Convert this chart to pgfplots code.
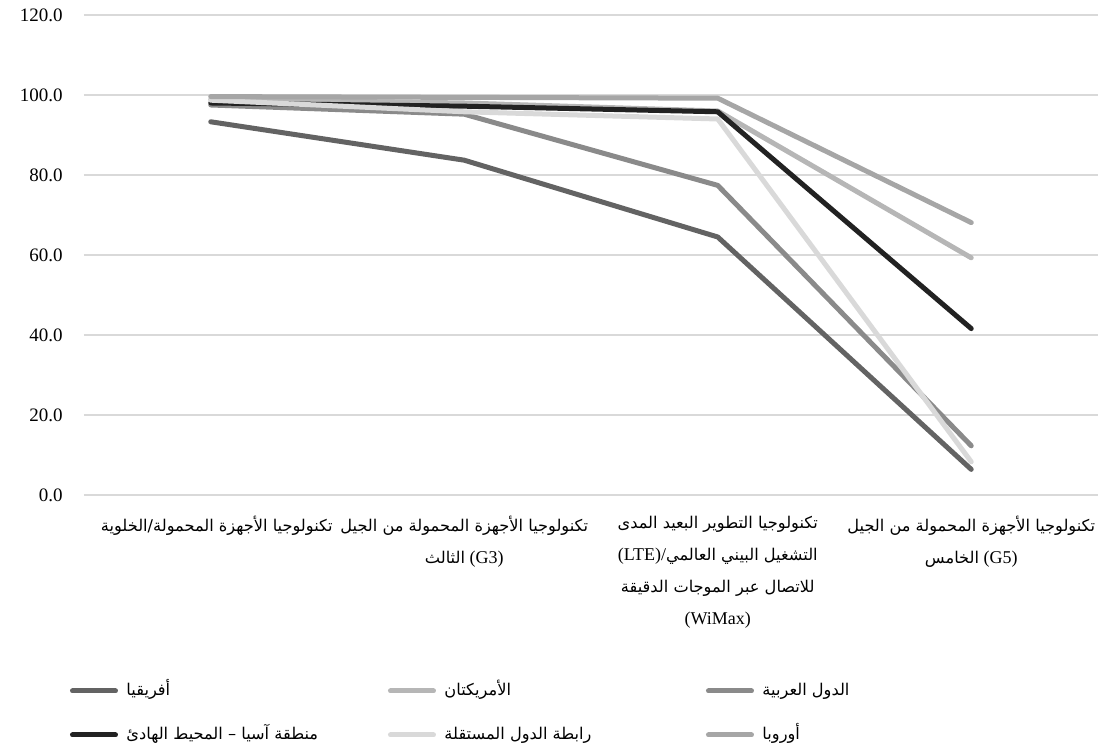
\documentclass[border=0pt]{standalone}
\usepackage{fontspec}
\usepackage{pgfplots}
\usepackage{pgfplotstable}
\pgfplotsset{compat=1.18}
\setmainfont{Liberation Serif}
\newfontfamily\arabicfont[Script=Arabic,Scale=0.9]{DejaVu Sans}
\TeXXeTstate=1

\definecolor{cAfrica}{HTML}{636363}
\definecolor{cAmericas}{HTML}{B6B6B6}
\definecolor{cArab}{HTML}{8A8A8A}
\definecolor{cAsia}{HTML}{222222}
\definecolor{cCIS}{HTML}{D9D9D9}
\definecolor{cEurope}{HTML}{A6A6A6}
\definecolor{gridc}{HTML}{D9D9D9}

% population coverage (%) by technology, per region
\pgfplotstableread{
x africa americas arab asia cis europe
0 93.3 98.9 97.5 98.0 98.7 99.6
1 83.7 98.0 95.2 97.2 95.8 99.4
2 64.5 96.0 77.4 95.8 94.0 99.2
3 6.4 59.3 12.3 41.6 8.3 68.1
}\coverage

% fixed-width legend text so that the three columns are evenly spaced
\newcommand{\legbox}[1]{\makebox[130.75pt][l]{#1}}

\begin{document}
\begin{tikzpicture}
\useasboundingbox (0,0) rectangle (549pt,374pt);
\begin{axis}[
  at={(42pt,126.5pt)}, anchor=south west,
  scale only axis, width=507pt, height=240pt,
  xmin=-0.5, xmax=3.5, ymin=0, ymax=120,
  ytick={0,20,...,120},
  xtick={0,1,2,3},
  xticklabels={
    {\hspace*{6pt}{\arabicfont\beginR تكنولوجيا الأجهزة المحمولة/الخلوية\endR}},
    {{\arabicfont\beginR تكنولوجيا الأجهزة المحمولة من الجيل\endR}\\{\arabicfont\beginR الثالث\endR} (G3)},
    {{\arabicfont\beginR تكنولوجيا التطوير البعيد المدى\endR}\\(LTE)/{\arabicfont\beginR التشغيل البيني العالمي\endR}\\{\arabicfont\beginR للاتصال عبر الموجات الدقيقة\endR}\\(WiMax)},
    {{\arabicfont\beginR تكنولوجيا الأجهزة المحمولة من الجيل\endR}\\{\arabicfont\beginR الخامس\endR} (G5)}
  },
  axis line style={draw=none},
  major tick length=0pt,
  ymajorgrids,
  major grid style={draw=gridc, line width=0.75pt},
  /pgf/number format/assume math mode=true,
  yticklabel={\pgfmathprintnumber[fixed,fixed zerofill,precision=1]{\tick}},
  yticklabel style={font=\fontsize{9.5}{11}\selectfont, inner sep=0pt, anchor=east, xshift=-10.5pt},
  xticklabel style={font=\fontsize{9}{15.9}\selectfont, align=center, anchor=north, inner sep=0pt, yshift=-10.5pt},
  every axis plot/.append style={line width=2.5pt, line cap=round, line join=round, mark=none},
  legend columns=3,
  legend image code/.code={\draw[#1] (0pt,0pt) -- (21.5pt,0pt);},
  legend style={
    at={(axis description cs:0,0)}, anchor=north west,
    xshift=-7pt, yshift=-93.5pt,
    draw=none, fill=none, inner sep=0pt, outer sep=0pt,
    row sep=13pt, column sep=0pt,
    font=\fontsize{9}{11}\selectfont,
    nodes={inner sep=0pt, outer sep=0pt, text height=7pt, text depth=2pt},
    /tikz/every odd column/.style={column sep=4.25pt},
  },
]
\addplot[cAfrica] table[x=x, y=africa] {\coverage};
\addlegendentry{\legbox{\arabicfont\beginR أفريقيا\endR}}
\addplot[cAmericas] table[x=x, y=americas] {\coverage};
\addlegendentry{\legbox{\arabicfont\beginR الأمريكتان\endR}}
\addplot[cArab] table[x=x, y=arab] {\coverage};
\addlegendentry{\legbox{\arabicfont\beginR الدول العربية\endR}}
\addplot[cAsia] table[x=x, y=asia] {\coverage};
\addlegendentry{\legbox{\arabicfont\beginR منطقة آسيا – المحيط الهادئ\endR}}
\addplot[cCIS] table[x=x, y=cis] {\coverage};
\addlegendentry{\legbox{\arabicfont\beginR رابطة الدول المستقلة\endR}}
\addplot[cEurope] table[x=x, y=europe] {\coverage};
\addlegendentry{\legbox{\arabicfont\beginR أوروبا\endR}}
\end{axis}
\end{tikzpicture}
\end{document}
